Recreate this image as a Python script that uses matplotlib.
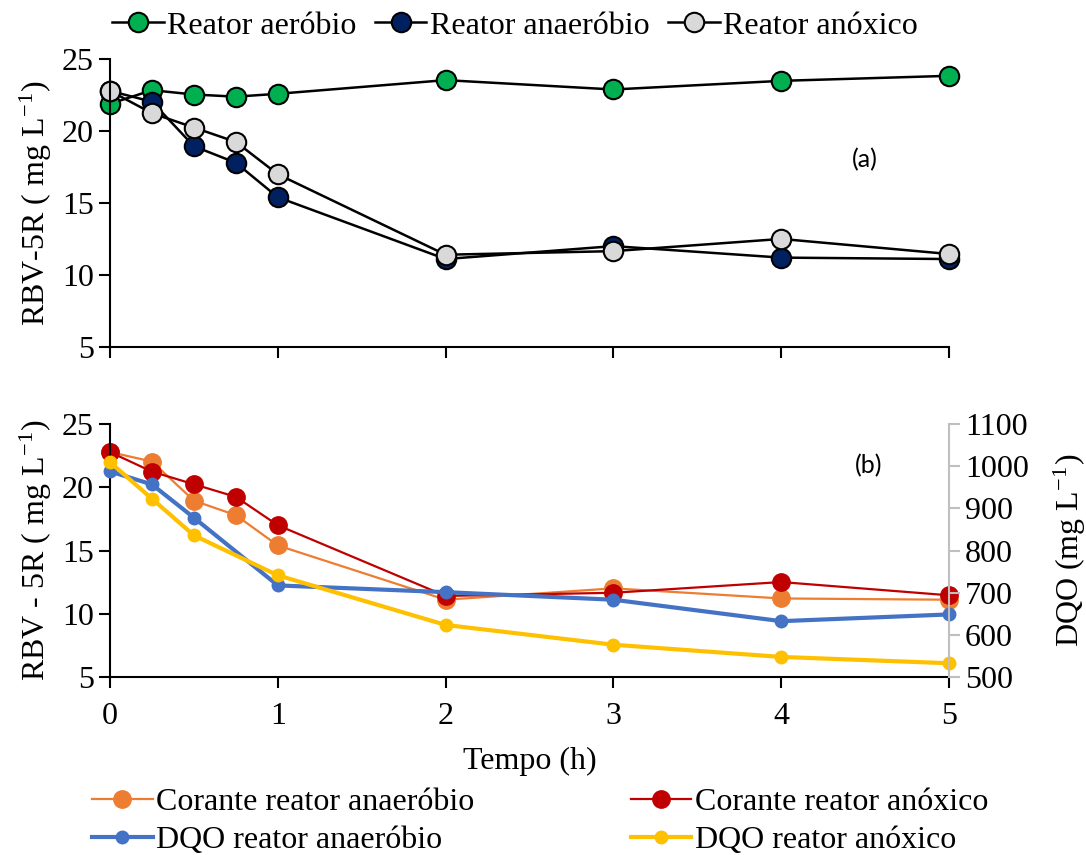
import matplotlib
matplotlib.use("Agg")
import matplotlib.pyplot as plt

plt.rcParams['font.family'] = ['Liberation Serif', 'DejaVu Serif']
plt.rcParams['mathtext.fontset'] = 'stix'

# ---- data ----
tempo = [0, 0.25, 0.5, 0.75, 1, 2, 3, 4, 5]
aerobio = [21.9, 22.85, 22.55, 22.4, 22.6, 23.55, 22.9, 23.5, 23.85]
anaerobio = [22.8, 22.05, 18.95, 17.8, 15.4, 11.1, 12.0, 11.2, 11.1]
anoxico = [22.8, 21.25, 20.25, 19.25, 17.0, 11.4, 11.65, 12.5, 11.45]

tempo_dqo = [0, 0.25, 0.5, 1, 2, 3, 4, 5]
dqo_anaerobio = [988, 957, 878, 717, 701, 683, 632, 648]
dqo_anoxico = [1010, 923, 836, 741, 623, 576, 547, 532]

xticks = [0, 1, 2, 3, 4, 5]
yticks_left = [5, 10, 15, 20, 25]
yticks_right = [500, 600, 700, 800, 900, 1000, 1100]

FS = 23
W, H = 1086, 855
fig = plt.figure(figsize=(W / 100, H / 100), dpi=100)

left = 110 / W
width = (949 - 110) / W
ax1 = fig.add_axes([left, 1 - 346.7 / H, width, (346.7 - 59.3) / H])
ax2 = fig.add_axes([left, 1 - 676.7 / H, width, (676.7 - 424.3) / H])
ax3 = ax2.twinx()

unit = r' ( mg L$^{\mathregular{-1}}$)'

# ---- top panel ----
mk = dict(marker='o', markersize=14, markeredgecolor='black', markeredgewidth=1.5,
          color='black', linewidth=1.8, clip_on=False)
ax1.plot(tempo, aerobio, markerfacecolor='#00B050', label='Reator aeróbio', **mk)
ax1.plot(tempo, anaerobio, markerfacecolor='#002060', label='Reator anaeróbio', **mk)
ax1.plot(tempo, anoxico, markerfacecolor='#D9D9D9', label='Reator anóxico', **mk)
ax1.set_xlim(0, 5)
ax1.set_ylim(5, 25)
ax1.set_xticks(xticks)
ax1.set_xticklabels([])
ax1.set_yticks(yticks_left)
for sp in ['top', 'right']:
    ax1.spines[sp].set_visible(False)
for sp in ['left', 'bottom']:
    ax1.spines[sp].set_linewidth(1.5)
ax1.tick_params(axis='both', direction='out', length=8, width=1.5, labelsize=FS)
ax1.set_ylabel('RBV-5R' + unit, fontsize=FS, labelpad=6)
ax1.text(4.5, 18.0, '(a)', fontsize=18, family=['Lato', 'DejaVu Sans'], ha='center', va='center')
ax1.legend(loc='center', bbox_to_anchor=(515 / W, 1 - 26 / H),
           bbox_transform=fig.transFigure, ncol=3, frameon=False,
           fontsize=FS, handlelength=1.6, handletextpad=0.1, columnspacing=0.6,
           borderaxespad=0.0, borderpad=0.0)

# ---- bottom panel ----
l1, = ax2.plot(tempo, anaerobio, color='#ED7D31', marker='o', markersize=12.5,
               linewidth=1.6, label='Corante reator anaeróbio', clip_on=False)
l2, = ax2.plot(tempo, anoxico, color='#C00000', marker='o', markersize=12.5,
               linewidth=1.6, label='Corante reator anóxico', clip_on=False)
l3, = ax3.plot(tempo_dqo, dqo_anaerobio, color='#4472C4', marker='o', markersize=9,
               linewidth=3, label='DQO reator anaeróbio', clip_on=False)
l4, = ax3.plot(tempo_dqo, dqo_anoxico, color='#FFC000', marker='o', markersize=9,
               linewidth=3, label='DQO reator anóxico', clip_on=False)

ax2.set_xlim(0, 5)
ax2.set_ylim(5, 25)
ax2.set_xticks(xticks)
ax2.set_yticks(yticks_left)
ax3.set_ylim(500, 1100)
ax3.set_yticks(yticks_right)
ax2.spines['top'].set_visible(False)
ax2.spines['right'].set_visible(False)
ax3.spines['top'].set_visible(False)
ax3.spines['left'].set_visible(False)
ax3.spines['bottom'].set_visible(False)
ax3.spines['right'].set_color('#BFBFBF')
ax3.spines['right'].set_linewidth(1.5)
for sp in ['left', 'bottom']:
    ax2.spines[sp].set_linewidth(1.5)
ax2.tick_params(axis='both', direction='out', length=8, width=1.5, labelsize=FS)
ax2.tick_params(axis='x', pad=10)
ax3.tick_params(axis='y', direction='out', length=8, width=1.5, colors='#BFBFBF',
                labelcolor='black', labelsize=FS)
ax2.set_ylabel('RBV - 5R' + unit, fontsize=FS, labelpad=6)
ax3.set_ylabel('DQO (mg L$^{\\mathregular{-1}}$)', fontsize=FS, labelpad=16)
ax2.set_xlabel('Tempo (h)', fontsize=FS, labelpad=12)
ax2.text(4.52, 21.75, '(b)', fontsize=18, family=['Lato', 'DejaVu Sans'], ha='center', va='center')

fig.legend(handles=[l1, l3, l2, l4], loc='upper left', bbox_to_anchor=(92 / W, 1 - 788 / H),
           ncol=2, frameon=False, fontsize=FS, handlelength=1.9, handletextpad=0.1,
           columnspacing=4.9, labelspacing=0.25, borderpad=0.0, borderaxespad=0.0)

fig.savefig('out.png', dpi=100)
